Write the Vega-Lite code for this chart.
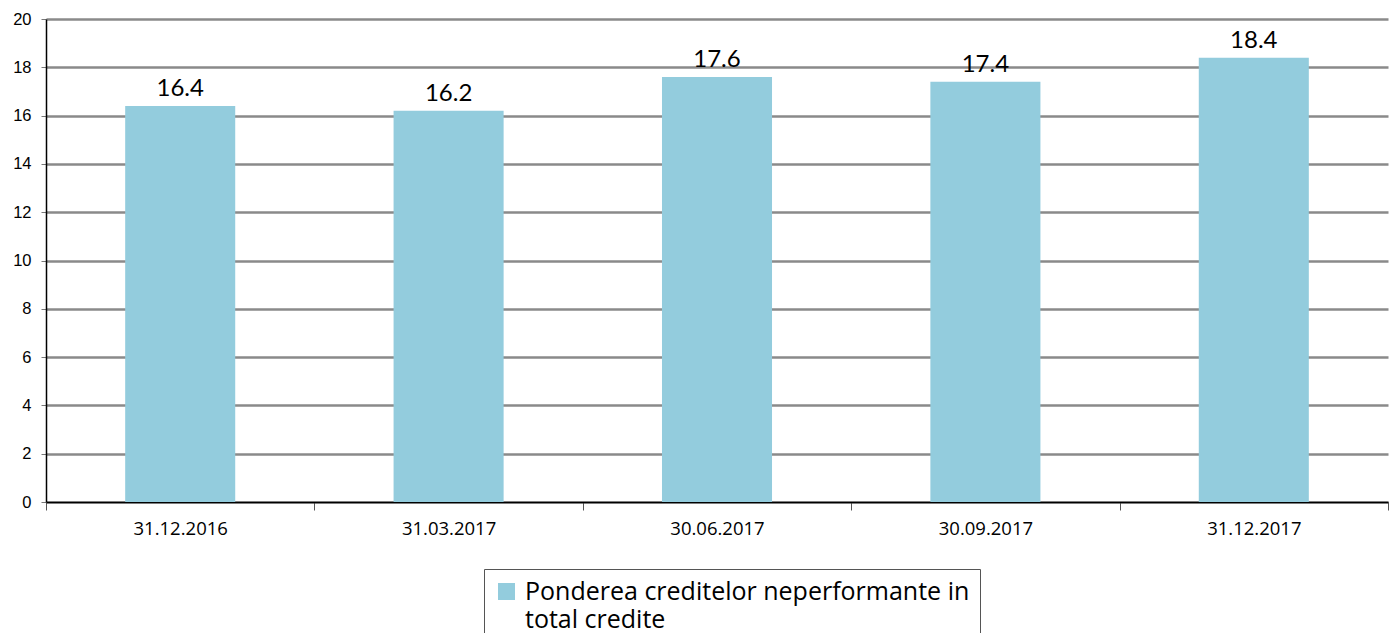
{
  "$schema": "https://vega.github.io/schema/vega-lite/v6.json",
  "autosize": "none",
  "width": 1342,
  "height": 483,
  "padding": {"left": 46, "top": 19, "right": 8, "bottom": 131},
  "background": "white",
  "data": {
    "values": [
      {"date": "31.12.2016", "value": 16.4, "series": "Ponderea creditelor neperformante in total credite"},
      {"date": "31.03.2017", "value": 16.2, "series": "Ponderea creditelor neperformante in total credite"},
      {"date": "30.06.2017", "value": 17.6, "series": "Ponderea creditelor neperformante in total credite"},
      {"date": "30.09.2017", "value": 17.4, "series": "Ponderea creditelor neperformante in total credite"},
      {"date": "31.12.2017", "value": 18.4, "series": "Ponderea creditelor neperformante in total credite"}
    ]
  },
  "config": {
    "view": {"stroke": null},
    "font": "Liberation Sans"
  },
  "encoding": {
    "x": {
      "field": "date",
      "type": "nominal",
      "sort": null,
      "title": null,
      "scale": {"paddingInner": 0, "paddingOuter": 0},
      "axis": {
        "labelAngle": 0,
        "labelFont": "Open Sans",
        "labelFontSize": 18.5,
        "labelColor": "#000",
        "labelPadding": 9,
        "tickBand": "extent",
        "tickSize": 8,
        "tickColor": "#555",
        "tickWidth": 1,
        "domainColor": "#000",
        "domainWidth": 1.5,
        "grid": false
      }
    },
    "y": {
      "field": "value",
      "type": "quantitative",
      "title": null,
      "scale": {"domain": [0, 20], "nice": false},
      "axis": {
        "values": [0, 2, 4, 6, 8, 10, 12, 14, 16, 18, 20],
        "labelFont": "Liberation Sans",
        "labelFontSize": 16.5,
        "labelColor": "#000",
        "labelPadding": 10,
        "tickSize": 5,
        "tickColor": "#777",
        "domainColor": "#000",
        "domainWidth": 1.5,
        "grid": true,
        "gridColor": "#8a8a8a",
        "gridWidth": 2.5
      }
    }
  },
  "layer": [
    {
      "mark": {"type": "bar", "width": {"band": 0.41}, "color": "#93CCDD"},
      "encoding": {
        "color": {
          "field": "series",
          "type": "nominal",
          "scale": {"range": ["#93CCDD"]},
          "legend": {
            "title": null,
            "orient": "none",
            "legendX": 438,
            "legendY": 550,
            "direction": "vertical",
            "symbolType": "square",
            "symbolSize": 289,
            "symbolStrokeWidth": 0,
            "symbolOpacity": 1,
            "labelFont": "Open Sans",
            "labelFontSize": 25,
            "labelColor": "#000",
            "labelLimit": 700,
            "labelOffset": 6,
            "labelExpr": "['Ponderea creditelor neperformante in', 'total credite']",
            "strokeColor": "#555",
            "padding": 10,
            "fillColor": "white",
            "encode": {
              "labels": {"update": {"lineHeight": {"value": 28}}}
            }
          }
        }
      }
    },
    {
      "mark": {"type": "text", "dy": -10, "baseline": "alphabetic", "font": "Lato", "fontSize": 24, "color": "#000"},
      "encoding": {
        "text": {"field": "value", "type": "quantitative", "format": ".1f"}
      }
    }
  ]
}
